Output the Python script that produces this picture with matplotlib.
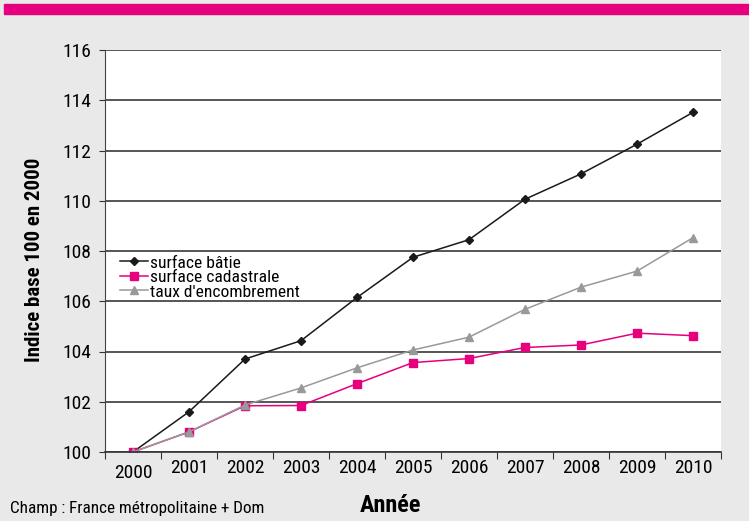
import numpy as np
import matplotlib
matplotlib.use("Agg")
import matplotlib.pyplot as plt
import matplotlib.transforms as mtransforms

plt.rcParams['font.family'] = ['Roboto Condensed', 'DejaVu Sans']

annees = ['2000', '2001', '2002', '2003', '2004', '2005', '2006', '2007', '2008', '2009', '2010']
surface_batie = [100, 101.6, 103.7, 104.43, 106.15, 107.75, 108.45, 110.06, 111.07, 112.25, 113.52]
surface_cadastrale = [100, 100.8, 101.84, 101.85, 102.72, 103.56, 103.72, 104.16, 104.26, 104.73, 104.63]
taux_encombrement = [100, 100.8, 101.87, 102.55, 103.35, 104.06, 104.57, 105.68, 106.56, 107.2, 108.53]
y_ticks = [100, 102, 104, 106, 108, 110, 112, 114, 116]

bg = '#e8e9e8'
pink = '#e6007e'

fig = plt.figure(figsize=(7.49, 5.21), dpi=100, facecolor=bg)
# magenta band at the top
fig.patches.append(plt.Rectangle((4/749, 1-13.5/521), 1, 9.5/521, transform=fig.transFigure,
                                 color=pink, zorder=0))

ax = fig.add_axes([105/749, 1-452/521, 616/749, 402/521])
ax.set_facecolor('white')
x = np.arange(len(annees))

ax.plot(x, surface_batie, color='#1a1a1a', lw=1.1, marker='D', ms=4.5, label='surface bâtie')
ax.plot(x, surface_cadastrale, color=pink, lw=1.1, marker='s', ms=6, label='surface cadastrale')
ax.plot(x, taux_encombrement, color='#999999', lw=1.1, marker='^', ms=6, label="taux d'encombrement")

ax.set_xlim(-0.5, len(annees) - 0.5)
ax.set_ylim(100, 116)
ax.set_yticks(y_ticks)
ax.set_yticklabels([str(v) for v in y_ticks], fontsize=14)
ax.yaxis.grid(True, color='#555555', lw=1.4)
ax.set_axisbelow(True)

# category ticks sit between the years
ax.set_xticks(np.arange(-0.5, len(annees), 1))
ax.set_xticklabels([])
ax.set_xticks(x, minor=True)
ax.set_xticklabels(annees, minor=True, fontsize=14)
ax.tick_params(axis='x', which='major', direction='out', length=5, color='#333333')
ax.tick_params(axis='x', which='minor', length=0, pad=5)
ax.tick_params(axis='y', direction='out', length=4, color='#333333', pad=6)

# the first year label sits a bit lower in the original
lbl0 = ax.xaxis.get_minor_ticks()[0].label1
lbl0.set_transform(lbl0.get_transform() + mtransforms.ScaledTranslation(0, -5/100, fig.dpi_scale_trans))

for s in ['top', 'right']:
    ax.spines[s].set_visible(False)
ax.spines['left'].set_color('#444444')
ax.spines['bottom'].set_color('#333333')
ax.spines['bottom'].set_linewidth(1.2)

ax.set_ylabel('Indice base 100 en 2000', fontsize=15, fontweight='bold')
ax.yaxis.set_label_coords(-0.099, 0.478)

leg = ax.legend(loc='upper left', bbox_to_anchor=(108/749, 1-243/521), bbox_transform=fig.transFigure,
                frameon=False, fontsize=12.6, handlelength=1.6, handletextpad=0.12,
                labelspacing=-0.04, borderpad=0.2)

fig.text(390/749, 1-506/521, 'Année', fontsize=17.5, fontweight='bold', ha='center', va='center')
fig.text(10/749, 1-508/521, 'Champ : France métropolitaine + Dom', fontsize=12.3, ha='left', va='center')

fig.savefig('out.png', dpi=100, facecolor=bg)
